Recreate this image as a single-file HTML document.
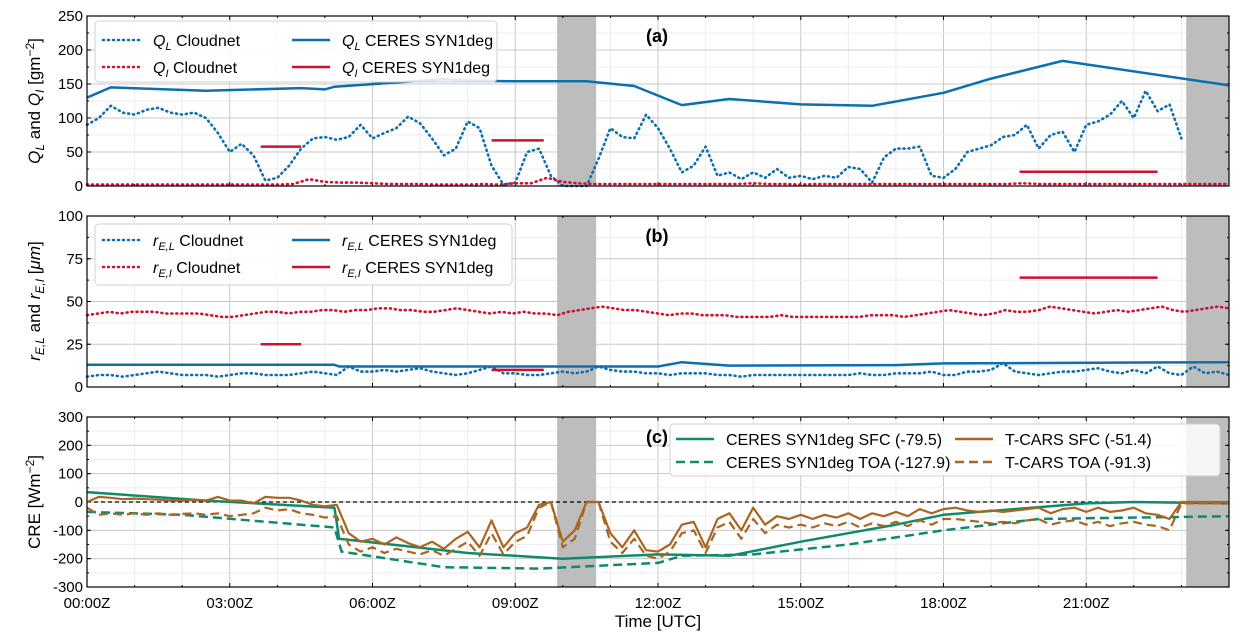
<!DOCTYPE html>
<html><head><meta charset="utf-8"><style>
html,body{margin:0;padding:0;background:#fff;}
svg{display:block;font-family:"Liberation Sans","DejaVu Sans",sans-serif;}
</style></head><body>
<svg id="fig" width="1242" height="641" viewBox="0 0 1242 641"></svg>
<script>
// ---------- DATA ----------
const qlCloudnet=[90,100,118,108,105,112,115,108,105,108,100,78,50,62,45,8,12,30,55,70,72,68,72,90,70,78,85,102,92,70,45,55,95,85,30,2,5,50,55,15,0,0,0,40,85,72,70,105,85,55,20,30,58,15,20,10,20,12,25,12,15,10,15,12,28,25,5,42,55,55,58,15,12,25,50,55,60,72,75,90,55,75,80,50,90,95,105,125,100,140,110,120,70];
const qiCloudnet=[2,2,2,2,2,2,2,2,2,2,2,2,2,3,10,6,5,5,4,3,3,3,2,2,2,3,2,4,4,12,6,4,3,3,3,3,3,3,3,3,3,3,4,3,3,2,3,3,3,3,3,3,3,3,3,3,3,3,3,4,3,3,3,3,3,3,3,3,3,3,3,3,3];
const qlCeresT=[0,0.5,2.5,4.5,5.0,5.2,7.5,8.0,9.0,10.5,11.5,12.5,13.5,15.0,16.5,18.0,19.0,20.5,24];
const qlCeres=[130,145,140,144,142,146,157,155,154,154,147,119,128,120,118,137,158,184,148];
const ceresSegStart=[3.65,8.5,19.6];
const ceresSegEnd=[4.5,9.6,22.5];
const qiCeres=[58,67,21];
const reiCeres=[25,10,64];
const relCloudnet=[6,7,7,6,7,8,9,8,7,7,7,6,7,8,8,7,7,7,8,9,8,7,12,9,9,10,9,10,11,9,8,7,8,10,12,8,8,7,7,8,9,8,9,12,10,9,9,8,8,7,8,8,8,7,7,6,7,7,7,7,7,7,7,7,7,8,7,7,8,8,8,9,7,7,9,9,10,14,9,8,7,8,9,9,10,11,9,8,10,8,12,8,7,12,8,9,7];
const reiCloudnet=[42,43,44,43,44,44,44,43,43,43,43,42,41,41,42,43,44,44,43,44,44,45,45,44,45,45,46,46,45,45,44,44,45,46,45,44,43,44,43,44,43,43,42,44,45,46,47,46,45,45,44,43,42,43,43,42,42,42,41,41,41,41,42,41,41,41,41,41,41,41,42,42,42,41,42,43,44,45,44,43,42,43,45,44,44,45,47,46,45,44,43,44,45,44,45,46,47,45,44,45,46,47,46];
const relCeresT=[0,5.2,5.3,12.0,12.5,13.5,17,18,24];
const relCeres=[13,13,12,12,14.5,12.5,12.8,13.8,14.5];
const cSfcT=[0,2.5,5.2,5.3,8,10,12,13.5,15,17,18,21,22,24];
const cSfc=[35,5,-20,-130,-180,-200,-185,-190,-140,-80,-45,-5,0,-5];
const cToaT=[0,2,5.2,5.35,7.5,9.5,12,12.5,14,16,18,20,24];
const cToa=[-35,-45,-90,-175,-230,-235,-215,-190,-185,-150,-100,-60,-50];
const tSfc=[0,18,15,10,12,10,8,5,5,8,5,18,5,5,-5,18,15,15,5,-10,-15,-10,-110,-140,-130,-150,-125,-145,-160,-140,-165,-130,-105,-160,-65,-160,-110,-90,-10,0,-140,-100,0,0,-110,-160,-100,-170,-175,-150,-80,-70,-160,-60,-40,-100,-20,-80,-50,-60,-45,-60,-45,-55,-40,-60,-40,-50,-35,-50,-25,-40,-25,-20,-30,-35,-30,-35,-30,-25,-20,-40,-25,-20,-35,-20,-35,-30,-20,-40,-45,-60,0,0,0,0,0];
const tToa=[-20,-45,-40,-45,-40,-45,-40,-45,-42,-40,-45,-40,-50,-45,-40,-20,-30,-25,-40,-45,-55,-50,-150,-175,-160,-180,-165,-175,-185,-170,-190,-165,-140,-190,-110,-185,-140,-120,-20,0,-160,-130,0,0,-140,-180,-130,-190,-200,-175,-110,-100,-180,-90,-70,-130,-60,-110,-80,-90,-80,-90,-75,-85,-70,-90,-75,-85,-70,-85,-65,-80,-60,-60,-65,-70,-75,-70,-75,-65,-60,-80,-70,-65,-80,-70,-85,-75,-70,-80,-85,-100,-5,-5,-5,-5,-5];
const xTickLabels=["00:00Z","03:00Z","06:00Z","09:00Z","12:00Z","15:00Z","18:00Z","21:00Z"];
const grayStart=[9.88,23.1];
const grayEnd=[10.7,24];

// ---------- HELPERS ----------
const NS="http://www.w3.org/2000/svg";
const svg=document.getElementById('fig');
function mk(tag,attrs,parent){const e=document.createElementNS(NS,tag);for(const k in attrs)e.setAttribute(k,attrs[k]);(parent||svg).appendChild(e);return e;}
const X0=87,X1=1229;
const xs=h=>X0+(X1-X0)*h/24;
const panels=[{top:16,bot:186,min:0,max:250,major:50,minor:25,ticks:[0,50,100,150,200,250]},
{top:216,bot:387,min:0,max:100,major:25,minor:12.5,ticks:[0,25,50,75,100]},
{top:417,bot:587,min:-300,max:300,major:100,minor:50,ticks:[-300,-200,-100,0,100,200,300]}];
const BLUE="#0b6fb0",RED="#d0102f",GREEN="#0f8a6c",BROWN="#aa6620";

function ys(p,v){return p.bot-(p.bot-p.top)*(v-p.min)/(p.max-p.min);}
function linePath(p,tarr,varr){return tarr.map((t,i)=>(i?'L':'M')+xs(t).toFixed(1)+','+ys(p,varr[i]).toFixed(1)).join(' ');}

panels.forEach((p,pi)=>{
  const g=mk('g',{});
  
  
  for(let h=0;h<=24;h++){mk('line',{x1:xs(h),x2:xs(h),y1:p.top,y2:p.bot,stroke:h%3?'#ececec':'#c8c8c8','stroke-width':1},g);}
  for(let v=p.min;v<=p.max+1e-6;v+=p.minor){const maj=Math.abs((v-p.min)%p.major)<1e-6;mk('line',{x1:X0,x2:X1,y1:ys(p,v),y2:ys(p,v),stroke:maj?'#c8c8c8':'#ececec','stroke-width':1},g);}
  grayStart.forEach((s,i)=>{const r=mk('rect',{x:xs(s),y:p.top,width:xs(grayEnd[i])-xs(s),height:p.bot-p.top,fill:'#bdbdbd'},g);
    });
  p.ticks.forEach(v=>{const y=ys(p,v);
    mk('line',{x1:X0,x2:X0+4,y1:y,y2:y,stroke:'#000'},g);mk('line',{x1:X1-4,x2:X1,y1:y,y2:y,stroke:'#000'},g);
    const t=mk('text',{x:X0-4,y:y+5,'text-anchor':'end','font-size':15},g);t.textContent=v;
    });
  for(let v=p.min;v<=p.max;v+=p.minor){const y=ys(p,v);mk('line',{x1:X0,x2:X0+2,y1:y,y2:y,stroke:'#000'},g);mk('line',{x1:X1-2,x2:X1,y1:y,y2:y,stroke:'#000'},g);}
  for(let h=0;h<=24;h++){const L=h%3?2:4;mk('line',{x1:xs(h),x2:xs(h),y1:p.bot,y2:p.bot-L,stroke:'#000'},g);mk('line',{x1:xs(h),x2:xs(h),y1:p.top,y2:p.top+L,stroke:'#000'},g);}
  p.g=g;
});

const pa=panels[0],pb=panels[1],pc=panels[2];
function addPath(p,d,color,w,dash,name){const e=mk('path',{d:d,fill:'none',stroke:color,'stroke-width':w,'stroke-dasharray':dash||'none','stroke-linejoin':'round','stroke-linecap':dash==='1 4'?'round':'butt'},p.g);
  return e;}
const tq=qlCloudnet.map((v,i)=>i*0.25);
addPath(pa,linePath(pa,tq,qlCloudnet),BLUE,2.6,'1 4','ql-cloudnet-line');
const tqi=qiCloudnet.map((v,i)=>i*24/(qiCloudnet.length-1));
addPath(pa,linePath(pa,tqi,qiCloudnet),RED,2.6,'1 4','qi-cloudnet-line');
addPath(pa,linePath(pa,qlCeresT,qlCeres),BLUE,2.5,null,'ql-ceres-line');
ceresSegStart.forEach((s,i)=>addPath(pa,linePath(pa,[s,ceresSegEnd[i]],[qiCeres[i],qiCeres[i]]),RED,2.5,null,'qi-ceres-segment'));

const tr=relCloudnet.map((v,i)=>i*0.25);
addPath(pb,linePath(pb,tr,relCloudnet),BLUE,2.6,'1 4','rel-cloudnet-line');
const tri=reiCloudnet.map((v,i)=>i*24/(reiCloudnet.length-1));
addPath(pb,linePath(pb,tri,reiCloudnet),RED,2.6,'1 4','rei-cloudnet-line');
addPath(pb,linePath(pb,relCeresT,relCeres),BLUE,2.5,null,'rel-ceres-line');
ceresSegStart.forEach((s,i)=>addPath(pb,linePath(pb,[s,ceresSegEnd[i]],[reiCeres[i],reiCeres[i]]),RED,2.5,null,'rei-ceres-segment'));

addPath(pc,`M${X0},${ys(pc,0)} L${X1},${ys(pc,0)}`,'#000',1.2,'4 3','zero-line');
addPath(pc,linePath(pc,cSfcT,cSfc),GREEN,2.5,null,'ceres-sfc-line');
addPath(pc,linePath(pc,cToaT,cToa),GREEN,2.5,'9 5','ceres-toa-line');
const tt=tSfc.map((v,i)=>i*0.25);
addPath(pc,linePath(pc,tt,tSfc),BROWN,2.2,null,'tcars-sfc-line');
addPath(pc,linePath(pc,tt,tToa),BROWN,2.2,'9 5','tcars-toa-line');

panels.forEach(p=>{const r=mk('rect',{x:X0,y:p.top,width:X1-X0,height:p.bot-p.top,fill:'none',stroke:'#000','stroke-width':1.2},p.g);
  });

xTickLabels.forEach((l,i)=>{const t=mk('text',{x:xs(i*3),y:608,'text-anchor':'middle','font-size':15});t.textContent=l;
  });
const xt=mk('text',{x:658,y:627,'text-anchor':'middle','font-size':17});xt.textContent='Time [UTC]';


[['(a)',pa],['(b)',pb],['(c)',pc]].forEach(([s,p])=>{const t=mk('text',{x:657,y:p.top+26,'text-anchor':'middle','font-size':18,'font-weight':'bold'});t.textContent=s;
  });

function ytitle(html,cy,name){const t=mk('text',{x:0,y:0,'text-anchor':'middle','font-size':17,transform:`translate(40,${cy}) rotate(-90)`});t.innerHTML=html;
  }
ytitle('<tspan font-style="italic">Q</tspan><tspan font-size="12" dy="4" font-style="italic">L</tspan><tspan dy="-4"> and </tspan><tspan font-style="italic">Q</tspan><tspan font-size="12" dy="4" font-style="italic">I</tspan><tspan dy="-4"> [gm</tspan><tspan font-size="12" dy="-6">−2</tspan><tspan dy="6">]</tspan>',101,'y-axis-title-a');
ytitle('<tspan font-style="italic">r</tspan><tspan font-size="12" dy="4" font-style="italic">E,L</tspan><tspan dy="-4"> and </tspan><tspan font-style="italic">r</tspan><tspan font-size="12" dy="4" font-style="italic">E,I</tspan><tspan dy="-4"> [</tspan><tspan font-style="italic">μm</tspan><tspan>]</tspan>',301,'y-axis-title-b');
ytitle('CRE [Wm<tspan font-size="12" dy="-6">−2</tspan><tspan dy="6">]</tspan>',502,'y-axis-title-c');

function legend(x,y,w,h,items,name){const g=mk('g',{});
  mk('rect',{x:x,y:y,width:w,height:h,rx:4,fill:'#fff','fill-opacity':0.85,stroke:'#d0d0d0'},g);
  items.forEach(it=>{const ly=it.y;const dash=it.dash||'none';
    mk('line',{x1:it.x,x2:it.x+38,y1:ly,y2:ly,stroke:it.c,'stroke-width':2.5,'stroke-dasharray':dash,'stroke-linecap':dash==='1 4'?'round':'butt'},g);
    const t=mk('text',{x:it.x+50,y:ly+6,'font-size':16},g);t.innerHTML=it.t;
    });}
const sub=(a,b)=>`<tspan font-style="italic">${a}</tspan><tspan font-style="italic" font-size="11" dy="4">${b}</tspan><tspan dy="-4"> `;
legend(95,21,402,61,[{x:103,y:40,c:BLUE,dash:'1 4',t:sub('Q','L')+'Cloudnet</tspan>'},{x:103,y:67,c:RED,dash:'1 4',t:sub('Q','I')+'Cloudnet</tspan>'},
 {x:292,y:40,c:BLUE,t:sub('Q','L')+'CERES SYN1deg</tspan>'},{x:292,y:67,c:RED,t:sub('Q','I')+'CERES SYN1deg</tspan>'}],'legend-a');
legend(95,224,417,61,[{x:103,y:240,c:BLUE,dash:'1 4',t:sub('r','E,L')+'Cloudnet</tspan>'},{x:103,y:267,c:RED,dash:'1 4',t:sub('r','E,I')+'Cloudnet</tspan>'},
 {x:292,y:240,c:BLUE,t:sub('r','E,L')+'CERES SYN1deg</tspan>'},{x:292,y:267,c:RED,t:sub('r','E,I')+'CERES SYN1deg</tspan>'}],'legend-b');
legend(670,424,550,52,[{x:676,y:439,c:GREEN,t:'CERES SYN1deg SFC (-79.5)'},{x:676,y:462,c:GREEN,dash:'9 5',t:'CERES SYN1deg TOA (-127.9)'},
 {x:955,y:439,c:BROWN,t:'T-CARS SFC (-51.4)'},{x:955,y:462,c:BROWN,dash:'9 5',t:'T-CARS TOA (-91.3)'}],'legend-c');
</script>
</body></html>
